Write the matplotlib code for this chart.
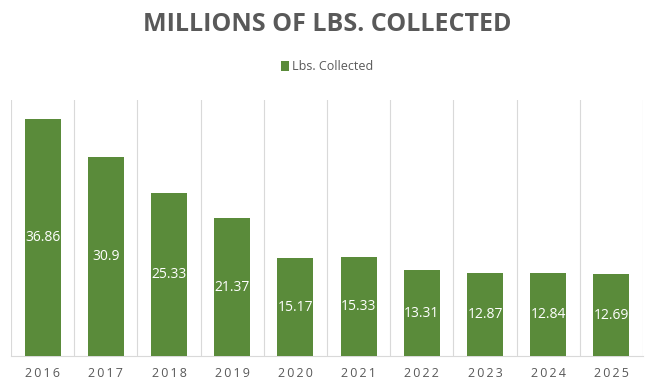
import matplotlib
matplotlib.use("Agg")
import matplotlib.pyplot as plt

years = ["2016", "2017", "2018", "2019", "2020", "2021", "2022", "2023", "2024", "2025"]
lbs_collected = [36.86, 30.9, 25.33, 21.37, 15.17, 15.33, 13.31, 12.87, 12.84, 12.69]

plt.rcParams['font.family'] = ['Open Sans', 'DejaVu Sans']

fig = plt.figure(figsize=(6.55, 3.87), dpi=100)
ax = fig.add_axes([0.0168, 0.080, 0.965, 0.662])

x = range(len(years))
bars = ax.bar(x, lbs_collected, width=0.57, color='#5A8B3A', label='Lbs. Collected', zorder=3)

for b, v in zip(bars, lbs_collected):
    ax.text(b.get_x() + b.get_width() / 2, v / 2, f"{v:g}", ha='center', va='center',
            color='white', fontsize=10, zorder=4)

# category separators like excel's vertical gridlines
for i in range(len(years) + 1):
    ax.axvline(i - 0.5, color='#D9D9D9', lw=0.8, zorder=1)

ax.set_xlim(-0.5, len(years) - 0.5)
ax.set_ylim(0, 39.8)
ax.set_xticks(list(x))
ax.set_xticklabels(["\u2009".join(y) for y in years], color='#595959', fontsize=9)
ax.tick_params(axis='x', length=0, pad=8)
ax.set_yticks([])
for s in ['top', 'left', 'right']:
    ax.spines[s].set_visible(False)
ax.spines['bottom'].set_color('#D9D9D9')
ax.spines['bottom'].set_zorder(2)

fig.text(0.5, 0.937, "MILLIONS OF LBS. COLLECTED", ha='center', va='center',
         fontsize=18, fontweight='bold', color='#595959')
fig.legend(loc='center', bbox_to_anchor=(0.5, 0.827), frameon=False, fontsize=9,
           handlelength=0.6, handleheight=0.9, handletextpad=0.3, labelcolor='#595959')

fig.savefig("out.png", dpi=100)
